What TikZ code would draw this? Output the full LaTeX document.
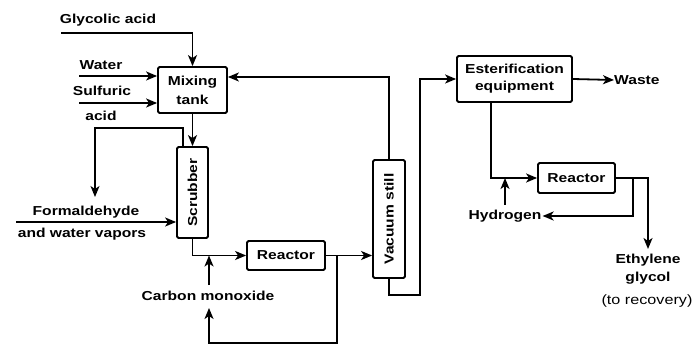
\documentclass[tikz,border=0pt]{standalone}
\usepackage{fontspec}
\setmainfont{Liberation Sans}[FakeStretch=1.2]
\usetikzlibrary{arrows.meta,calc}
\begin{document}
\begin{tikzpicture}[x=1pt,y=-1pt,
  every node/.style={font=\bfseries\fontsize{13}{17}\selectfont, inner sep=0pt},
  box/.style={draw, line width=1.8pt, rounded corners=1.5pt, align=center},
  lbl/.style={align=center},
  line/.style={line width=1.8pt},
  arr/.style={line width=1.8pt, -{Stealth[length=11pt,width=9pt,inset=3pt]}}]
\useasboundingbox (0,0) rectangle (695,347);
% boxes
\node[box, minimum width=69pt, minimum height=46pt, font=\bfseries\fontsize{13}{19}\selectfont] (mix) at (192.5,90) {Mixing\\tank};
\node[box, minimum width=31pt, minimum height=91pt] (scr) at (192.5,192.5) {};
\node[rotate=90] (scrt) at (scr) {Scrubber};
\node[box, minimum width=78pt, minimum height=29pt] (re1) at (286,255.5) {Reactor};
\node[box, minimum width=32pt, minimum height=118pt] (vac) at (389,219) {};
\node[rotate=90] (vact) at (vac) {Vacuum still};
\node[box, minimum width=115pt, minimum height=46pt] (est) at (514.5,79) {Esterification\\equipment};
\node[box, minimum width=77pt, minimum height=30pt] (re2) at (576.5,178) {Reactor};
% labels
\node[lbl] (gly) at (108,20) {Glycolic acid};
\node[lbl] (wat) at (101,65) {Water};
\node[lbl] (sul) at (102,91) {Sulfuric};
\node[lbl] (aci) at (101,116) {acid};
\node[lbl] (for) at (86,212) {Formaldehyde};
\node[lbl] (vap) at (82,234) {and water vapors};
\node[lbl] (co) at (208,296) {Carbon monoxide};
\node[lbl, anchor=west] (was) at (614,80) {Waste};
\node[lbl] (hyd) at (505,216) {Hydrogen};
\node[lbl] (eth) at (648,260) {Ethylene};
\node[lbl] (gyc) at (648,278) {glycol};
\node[lbl, font=\mdseries\fontsize{13.5}{15}\selectfont] (rec) at (647,301) {(to recovery)};
% coordinates
\coordinate (glyS) at (61,33);
\coordinate (watS) at (79,76);
\coordinate (sulS) at (79,103);
\coordinate (rcA) at (95,128);
\coordinate (rcB) at (95,197);
\coordinate (forS) at (16,222);
\coordinate (coS) at (209,285);
\coordinate (coE) at (209,255.5);
\coordinate (j1) at (337,255.5);
\coordinate (lpA) at (209,343);
\coordinate (lpB) at (209,308);
\coordinate (vB) at (420,295);
\coordinate (hS) at (505,205);
\coordinate (hE) at (505,178);
\coordinate (j2) at (633,178);
\coordinate (egE) at (648,249);
% connectors
\draw[arr] (glyS) -| (mix.north);
\draw[arr] (watS) -- (watS -| mix.west);
\draw[arr] (sulS) -- (sulS -| mix.west);
\draw[arr] (mix.south) -- (scr.north);
\draw[arr] ([xshift=-9.5pt]scr.north) |- (rcA) -- (rcB);
\draw[arr] (forS) -- (forS -| scr.west);
\draw[arr] (scr.south) |- (re1.west);
\draw[arr] (coS) -- (coE);
\draw[arr] (re1.east) -- (re1.east -| vac.west);
\draw[arr] (j1) |- (lpA) -- (lpB);
\draw[arr] (vac.north) |- ([yshift=13pt]mix.east);
\draw[arr] (vac.south) |- (vB) |- (est.west);
\draw[arr] (est.east) -- (was.west);
\draw[arr] ([xshift=-23.5pt]est.south) |- (re2.west);
\draw[arr] (hS) -- (hE);
\draw[arr] (re2.east) -| (egE);
\draw[arr] (j2) |- ([xshift=1pt]hyd.east);
\end{tikzpicture}
\end{document}
